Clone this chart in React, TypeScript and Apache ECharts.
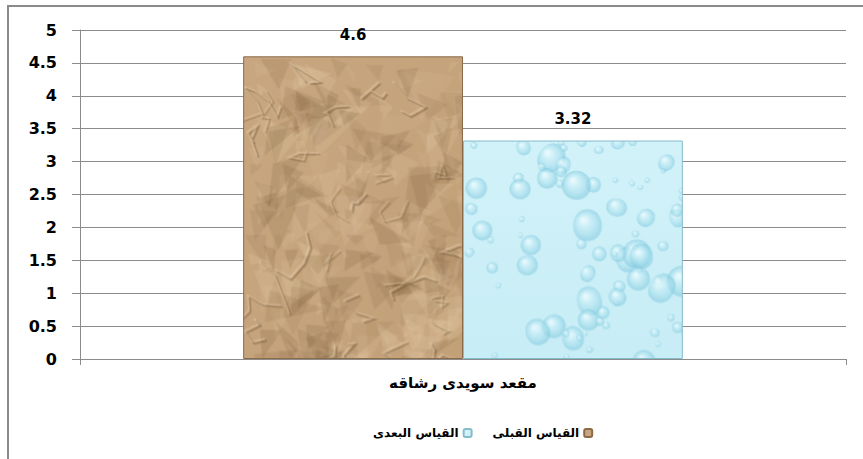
import React, { useEffect, useRef } from "react";
import * as echarts from "echarts";

const categories = ["مقعد سويدى رشاقه"];
const seriesNames = ["القياس القبلى", "القياس البعدى"];
const beforeValues = [4.6];
const afterValues = [3.32];
const legendOrder = ["القياس البعدى", "القياس القبلى"];

// deterministic hash used only for the decorative bar textures
function h(i: number): number {
  const s = Math.sin(i * 12.9898 + 78.233) * 43758.5453;
  return s - Math.floor(s);
}

const TW = 720;
const TH = 420;

function makeBrown(): any {
  const c = document.createElement("canvas");
  c.width = TW; c.height = TH;
  const g = c.getContext("2d")!;
  const base = g.createLinearGradient(0, 0, TW, TH);
  base.addColorStop(0, "#c8a780");
  base.addColorStop(1, "#b9956c");
  g.fillStyle = base;
  g.fillRect(0, 0, TW, TH);
  for (let i = 0; i < 1100; i++) {
    const x = h(i * 7 + 1) * TW;
    const y = h(i * 7 + 2) * TH;
    const s = 10 + h(i * 7 + 3) * 30;
    const light = h(i * 7 + 4) > 0.5;
    g.fillStyle = light
      ? `rgba(232,208,172,${0.08 + h(i * 7 + 5) * 0.14})`
      : `rgba(118,86,52,${0.07 + h(i * 7 + 5) * 0.12})`;
    g.beginPath();
    g.moveTo(x, y);
    g.lineTo(x + s * (0.5 + h(i * 7 + 6)), y + s * (h(i * 7 + 7) - 0.3));
    g.lineTo(x + s * (h(i * 11 + 3) - 0.2), y + s * (0.6 + h(i * 13 + 5)));
    g.closePath();
    g.fill();
  }
  for (let i = 0; i < 140; i++) {
    let x = h(i * 5 + 900) * TW;
    let y = h(i * 5 + 901) * TH;
    const pts: number[][] = [[x, y]];
    for (let k = 0; k < 4; k++) {
      x += (h(i * 17 + k * 3 + 1) - 0.5) * 40;
      y += (h(i * 19 + k * 3 + 2) - 0.4) * 30;
      pts.push([x, y]);
    }
    g.lineWidth = 1 + h(i + 3000) * 1.2;
    g.strokeStyle = "rgba(95,65,38,0.35)";
    g.beginPath();
    pts.forEach(([px, py], k) => (k ? g.lineTo(px, py) : g.moveTo(px, py)));
    g.stroke();
    g.strokeStyle = "rgba(240,220,190,0.35)";
    g.beginPath();
    pts.forEach(([px, py], k) => (k ? g.lineTo(px - 2, py - 2) : g.moveTo(px - 2, py - 2)));
    g.stroke();
  }
  return c;
}

function makeBlue(): any {
  const c = document.createElement("canvas");
  c.width = TW; c.height = TH;
  const g = c.getContext("2d")!;
  const base = g.createLinearGradient(0, 0, 0, TH);
  base.addColorStop(0, "#d2f2f9");
  base.addColorStop(1, "#bde8f2");
  g.fillStyle = base;
  g.fillRect(0, 0, TW, TH);
  for (let i = 0; i < 520; i++) {
    const x = h(i * 3 + 5000) * TW;
    const y = h(i * 3 + 5001) * TH;
    const r = 3 + Math.pow(h(i * 3 + 5002), 2) * 14;
    const rg = g.createRadialGradient(x - r * 0.25, y - r * 0.35, r * 0.1, x, y, r);
    rg.addColorStop(0, "rgba(240,252,255,0.7)");
    rg.addColorStop(0.55, "rgba(170,224,238,0.55)");
    rg.addColorStop(0.9, "rgba(125,198,220,0.55)");
    rg.addColorStop(1, "rgba(215,244,250,0.5)");
    g.fillStyle = rg;
    g.beginPath();
    g.ellipse(x, y, r, r * (0.75 + h(i + 7000) * 0.25), h(i + 7100) * Math.PI, 0, Math.PI * 2);
    g.fill();
  }
  return c;
}

export default function App() {
  const ref = useRef<HTMLDivElement>(null);
  useEffect(() => {
    const chart = echarts.init(ref.current!, null, { renderer: "svg" });
    const font = "DejaVu Sans";
    chart.setOption({
      animation: false,
      backgroundColor: "#ffffff",
      graphic: [
        {
          type: "rect",
          shape: { x: 8, y: 6, width: 870, height: 470 },
          style: { fill: "none", stroke: "#8a8a8a", lineWidth: 2 },
          silent: true,
          z: -1,
        },
      ],
      grid: { left: 80, right: 17, top: 30, bottom: 100 },
      legend: {
        data: legendOrder,
        left: 368,
        top: 422,
        align: "right",
        itemWidth: 8,
        itemHeight: 8,
        itemGap: 20,
        textStyle: { fontFamily: font, fontWeight: "bold", fontSize: 12, color: "#000" },
      },
      xAxis: {
        type: "category",
        data: categories,
        axisLine: { lineStyle: { color: "#8c8c8c" } },
        axisTick: { show: true, length: 6, lineStyle: { color: "#8c8c8c" } },
        axisLabel: {
          fontFamily: font,
          fontWeight: "bold",
          fontSize: 15,
          color: "#000",
          margin: 16,
        },
      },
      yAxis: {
        type: "value",
        min: 0,
        max: 5,
        interval: 0.5,
        axisLine: { show: true, lineStyle: { color: "#8c8c8c" } },
        axisTick: { show: true, length: 8, lineStyle: { color: "#8c8c8c" } },
        splitLine: { lineStyle: { color: "#8c8c8c" } },
        axisLabel: {
          fontFamily: font,
          fontWeight: "bold",
          fontSize: 16,
          color: "#000",
          margin: 23,
        },
      },
      series: [
        {
          name: seriesNames[0],
          type: "bar",
          data: beforeValues,
          barGap: "0%",
          barCategoryGap: "42.6%",
          itemStyle: {
            color: { image: makeBrown(), repeat: "no-repeat" },
            borderColor: "#8a6a48",
            borderWidth: 1,
          },
          label: {
            show: true,
            position: "top",
            distance: 14,
            fontFamily: font,
            fontWeight: "bold",
            fontSize: 15,
            color: "#000",
          },
        },
        {
          name: seriesNames[1],
          type: "bar",
          data: afterValues,
          itemStyle: {
            color: { image: makeBlue(), repeat: "no-repeat" },
            borderColor: "#86bccb",
            borderWidth: 1,
          },
          label: {
            show: true,
            position: "top",
            distance: 14,
            fontFamily: font,
            fontWeight: "bold",
            fontSize: 15,
            color: "#000",
          },
        },
      ],
    });
    return () => chart.dispose();
  }, []);
  return (
    <div
      ref={ref}
      style={{ position: "absolute", left: 0, top: 0, width: 863, height: 459 }}
    />
  );
}
